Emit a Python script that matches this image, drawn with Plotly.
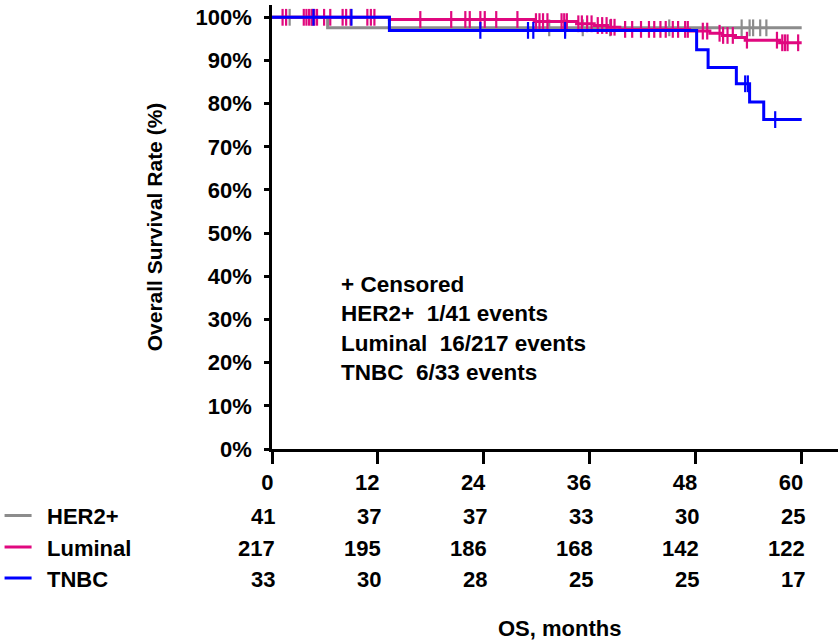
import numpy as np
import plotly.graph_objects as go

# ---------------- data ----------------
months_ticks = [0, 12, 24, 36, 48, 60]
surv_ticks = list(range(0, 101, 10))
surv_tick_labels = [f"{v}%" for v in surv_ticks]

groups = ["HER2+", "Luminal", "TNBC"]
colors = {"HER2+": "#8c8c8c", "Luminal": "#e0087f", "TNBC": "#0000ff"}

# Kaplan-Meier step events: time of event (months) and survival (%) after it
her2_event_t = [6.3]
her2_event_s = [97.56]
lum_event_t = [13.3, 29.7, 34.5, 36.5, 38.0, 39.4, 47.3, 49.6, 51.0, 52.5, 53.6, 57.5]
lum_event_s = [99.5, 99.0, 98.5, 98.1, 97.7, 97.2, 96.8, 96.3, 95.8, 95.3, 94.7, 94.1]
tnbc_event_t = [13.3, 48.1, 49.4, 52.6, 54.1, 55.7]
tnbc_event_s = [96.97, 92.5, 88.4, 84.6, 80.4, 76.3]

# censoring times (months)
her2_cens = [2.0, 4.5, 31.4, 33.2, 35.2, 38.3, 45.0, 53.2, 54.1, 54.5, 55.3, 56.0]
lum_cens = [1.2, 1.6, 3.6, 3.9, 4.2, 4.5, 4.8, 5.1, 5.9, 6.6, 8.0, 8.4, 8.9,
            10.8, 11.2, 11.6, 16.8, 20.3, 21.9, 22.4, 23.6, 24.1, 25.4, 27.8,
            29.9, 30.3, 30.7, 31.2, 32.8, 33.1, 33.4, 34.7, 35.1, 35.7, 36.2,
            36.9, 37.4, 37.9, 38.4, 38.8, 40.0, 40.8, 41.8, 42.7, 43.3, 44.0,
            44.6, 45.4, 46.0, 46.8, 47.1, 48.8, 49.3, 50.7, 51.1, 51.6, 52.2,
            53.8, 57.2, 57.8, 58.1, 58.4, 59.6]
tnbc_cens = [4.7, 9.0, 23.6, 29.0, 29.6, 33.2, 53.6, 53.9, 57.0]

# numbers at risk
at_risk = {
    "HER2+": [41, 37, 37, 33, 30, 25],
    "Luminal": [217, 195, 186, 168, 142, 122],
    "TNBC": [33, 30, 28, 25, 25, 17],
}

summary_lines = ["+ Censored", "HER2+  1/41 events", "Luminal  16/217 events", "TNBC  6/33 events"]

end_month = 60

# ---------------- figure ----------------
FONT = "Liberation Sans, Arial, sans-serif"
fig = go.Figure()


def step_curve(ev_t, ev_s):
    x = [0] + list(ev_t) + [end_month]
    y = [100] + list(ev_s) + [ev_s[-1]]
    return x, y


def surv_at(t_arr, ev_t, ev_s):
    ev_t = np.asarray(ev_t)
    s = np.concatenate([[100.0], np.asarray(ev_s, dtype=float)])
    idx = np.searchsorted(ev_t, np.asarray(t_arr), side="right")
    return s[idx]


series = [
    ("HER2+", her2_event_t, her2_event_s, her2_cens),
    ("Luminal", lum_event_t, lum_event_s, lum_cens),
    ("TNBC", tnbc_event_t, tnbc_event_s, tnbc_cens),
]

for name, et, es, cens in series:
    x, y = step_curve(et, es)
    c = colors[name]
    fig.add_trace(go.Scatter(x=x, y=y, mode="lines", line=dict(color=c, width=3, shape="hv"),
                             name=name, showlegend=False, cliponaxis=False))
    fig.add_trace(go.Scatter(x=cens, y=surv_at(cens, et, es), mode="markers",
                             marker=dict(symbol="line-ns", size=12, line=dict(color=c, width=2.2)),
                             showlegend=False, cliponaxis=False))

# geometry in screen pixels (page body margin removed below)
W, H = 838, 641
plot_left = 272.3
plot_bottom = 449
plot_top = 5
y100 = 17.3
x60 = 801.7
ph = plot_bottom - plot_top
pw = W - plot_left


def py(pix):
    return (plot_bottom - pix) / ph


def px(pix):
    return (pix - plot_left) / pw


row_y = {"HER2+": 516.5, "Luminal": 548, "TNBC": 579}

annotations = []
shapes = []
for g in groups:
    for m, n in zip(months_ticks, at_risk[g]):
        annotations.append(dict(x=m, y=py(row_y[g]), xref="x", yref="paper", text=str(n),
                                showarrow=False, xanchor="right", yanchor="middle", xshift=5,
                                font=dict(family=FONT, size=22, color="black", weight="bold")))
    annotations.append(dict(x=px(45), y=py(row_y[g]), xref="paper", yref="paper", text=g,
                            showarrow=False, xanchor="left", yanchor="middle",
                            font=dict(family=FONT, size=22, color="black", weight="bold")))
    shapes.append(dict(type="line", xref="paper", yref="paper", x0=px(5), x1=px(32),
                       y0=py(row_y[g] - 1), y1=py(row_y[g] - 1), line=dict(color=colors[g], width=3)))

annotations.append(dict(x=7.6, y=28.0, xref="x", yref="y", text="<br>".join(summary_lines),
                        showarrow=False, xanchor="left", yanchor="middle", align="left",
                        font=dict(family=FONT, size=22.5, color="black", weight="bold")))
annotations.append(dict(x=px(560), y=py(628), xref="paper", yref="paper", text="OS, months",
                        showarrow=False, xanchor="center", yanchor="middle",
                        font=dict(family=FONT, size=22, color="black", weight="bold")))

yr_top = 100 * (plot_bottom - plot_top) / (plot_bottom - y100)
xr_end = 60 * (W - plot_left) / (x60 - plot_left)

fig.update_layout(
    width=W, height=H,
    margin=dict(l=plot_left, r=0, t=plot_top, b=H - plot_bottom, pad=0, autoexpand=False),
    paper_bgcolor="white", plot_bgcolor="white",
    showlegend=False,
    annotations=annotations, shapes=shapes,
    font=dict(family=FONT, color="black"),
)
fig.update_xaxes(range=[0, xr_end], tickvals=months_ticks, ticks="outside", ticklen=12, tickwidth=2.5,
                 tickcolor="black", showline=True, linewidth=2.5, linecolor="black", showgrid=False,
                 zeroline=False, ticklabelposition="outside left", ticklabelshift=4, ticklabelstandoff=12,
                 automargin=False,
                 tickfont=dict(family=FONT, size=22, color="black", weight="bold"))
fig.update_yaxes(range=[0, yr_top], tickvals=surv_ticks, ticktext=surv_tick_labels, ticks="outside",
                 ticklen=5, tickwidth=2.5, tickcolor="black", showline=True, linewidth=2.5,
                 linecolor="black", showgrid=False, zeroline=False, ticklabelstandoff=8,
                 ticklabeloverflow="allow", automargin=False,
                 tickfont=dict(family=FONT, size=22, color="black", weight="bold"),
                 title=dict(text="Overall Survival Rate (%)", standoff=28,
                            font=dict(family=FONT, size=21, color="black", weight="bold")))

fig.write_html("out.html", config={"displayModeBar": False},
               post_script="document.body.style.margin='0';")
